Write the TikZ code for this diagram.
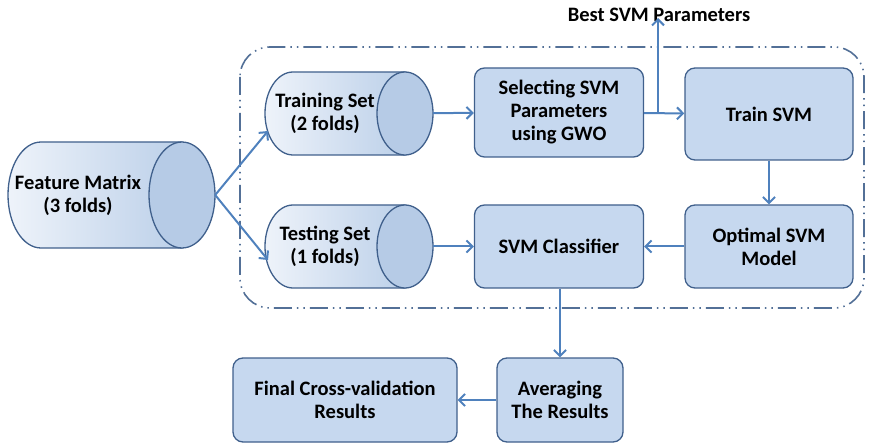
\documentclass[tikz,border=0pt]{standalone}
\usepackage{fontspec}
\setmainfont{Carlito}
\usetikzlibrary{arrows.meta}
\definecolor{boxfill}{HTML}{C6D8EF}
\definecolor{boxline}{HTML}{40608C}
\definecolor{arrowblue}{HTML}{4F81BD}
\definecolor{bodylight}{HTML}{EEF3FA}
\definecolor{bodydark}{HTML}{BCD0E9}
\definecolor{endfill}{HTML}{B6CBE6}
% data store: name, left, right, mid y, half height, cap half width, text x, text
\newcommand{\datastore}[8]{%
	\draw[storeline,left color=bodylight,right color=bodydark] ({#3-#6},{#4-#5}) -- ({#2+#6},{#4-#5})
		arc[start angle=-90,end angle=-270,x radius=#6,y radius=#5] -- ({#3-#6},{#4+#5}) -- cycle;
	\draw[storeline,fill=endfill] ({#3-#6},#4) ellipse[x radius=#6,y radius=#5];
	\node[inner sep=0pt,minimum width={#3-#2},minimum height={2*#5}] (#1) at ({(#2+#3)/2},#4) {};
	\node[align=center,inner sep=0pt] (#1text) at (#7,#4) {#8};
}
\begin{document}
\begin{tikzpicture}[
			x=1pt,y=-1pt,
			font=\fontsize{20.5}{23}\selectfont\bfseries,
			box/.style={rectangle,rounded corners=10pt,draw=boxline,line width=1.3pt,fill=boxfill,align=center,inner sep=2pt},
			storeline/.style={draw=boxline,line width=1.3pt},
			flow/.style={draw=arrowblue,line width=2pt,-{Straight Barb[length=6pt,width=12pt]}}
		]
		\useasboundingbox (0,0) rectangle (869,443);
		% outer frame
		\draw[boxline!90,line width=1.6pt,rounded corners=30pt,
			dash pattern=on 18pt off 5pt on 1.5pt off 5pt on 1.5pt off 5pt] (240,47) rectangle (864,308);
		% data stores
		\datastore{feat}{8}{215}{195}{53}{33}{78}{Feature Matrix\\(3 folds)}
		\datastore{train}{265}{433}{113.5}{41.5}{28}{325}{Training Set\\(2 folds)}
		\datastore{test}{265}{433}{246.5}{41.5}{28}{325}{Testing Set\\(1 folds)}
		% process boxes
		\node[box,minimum width=169pt,minimum height=89pt] (select) at (559,112.5) {Selecting SVM\\Parameters\\using GWO};
		\node[box,minimum width=168pt,minimum height=92pt] (trainsvm) at (769,114) {Train SVM};
		\node[box,minimum width=168pt,minimum height=83pt] (optimal) at (769,246.5) {Optimal SVM\\Model};
		\node[box,minimum width=169pt,minimum height=83pt] (classifier) at (559,246.5) {SVM Classifier};
		\node[box,minimum width=126pt,minimum height=84pt] (avg) at (560,400) {Averaging\\The Results};
		\node[box,minimum width=224pt,minimum height=84pt] (final) at (345,400) {Final Cross-validation\\Results};
		\node[inner sep=0pt] (best) at (659,15) {Best SVM Parameters};
		% connectors
		\coordinate (split) at (658,113);
		\coordinate (trainin) at (268,131);
		\coordinate (testin) at (268,260);
		\draw[flow] (feat.east) -- (trainin);
		\draw[flow] (feat.east) -- (testin);
		\draw[flow] (train) -- (select);
		\draw[flow] (select) -- (trainsvm);
		\draw[flow] (split) -- ([yshift=4pt]split |- best.south);
		\draw[flow] (trainsvm) -- (optimal);
		\draw[flow] (optimal) -- (classifier);
		\draw[flow] (test) -- (classifier);
		\draw[flow] (classifier.south -| avg.north) -- (avg.north);
		\draw[flow] (avg) -- (final);
	\end{tikzpicture}
\end{document}
